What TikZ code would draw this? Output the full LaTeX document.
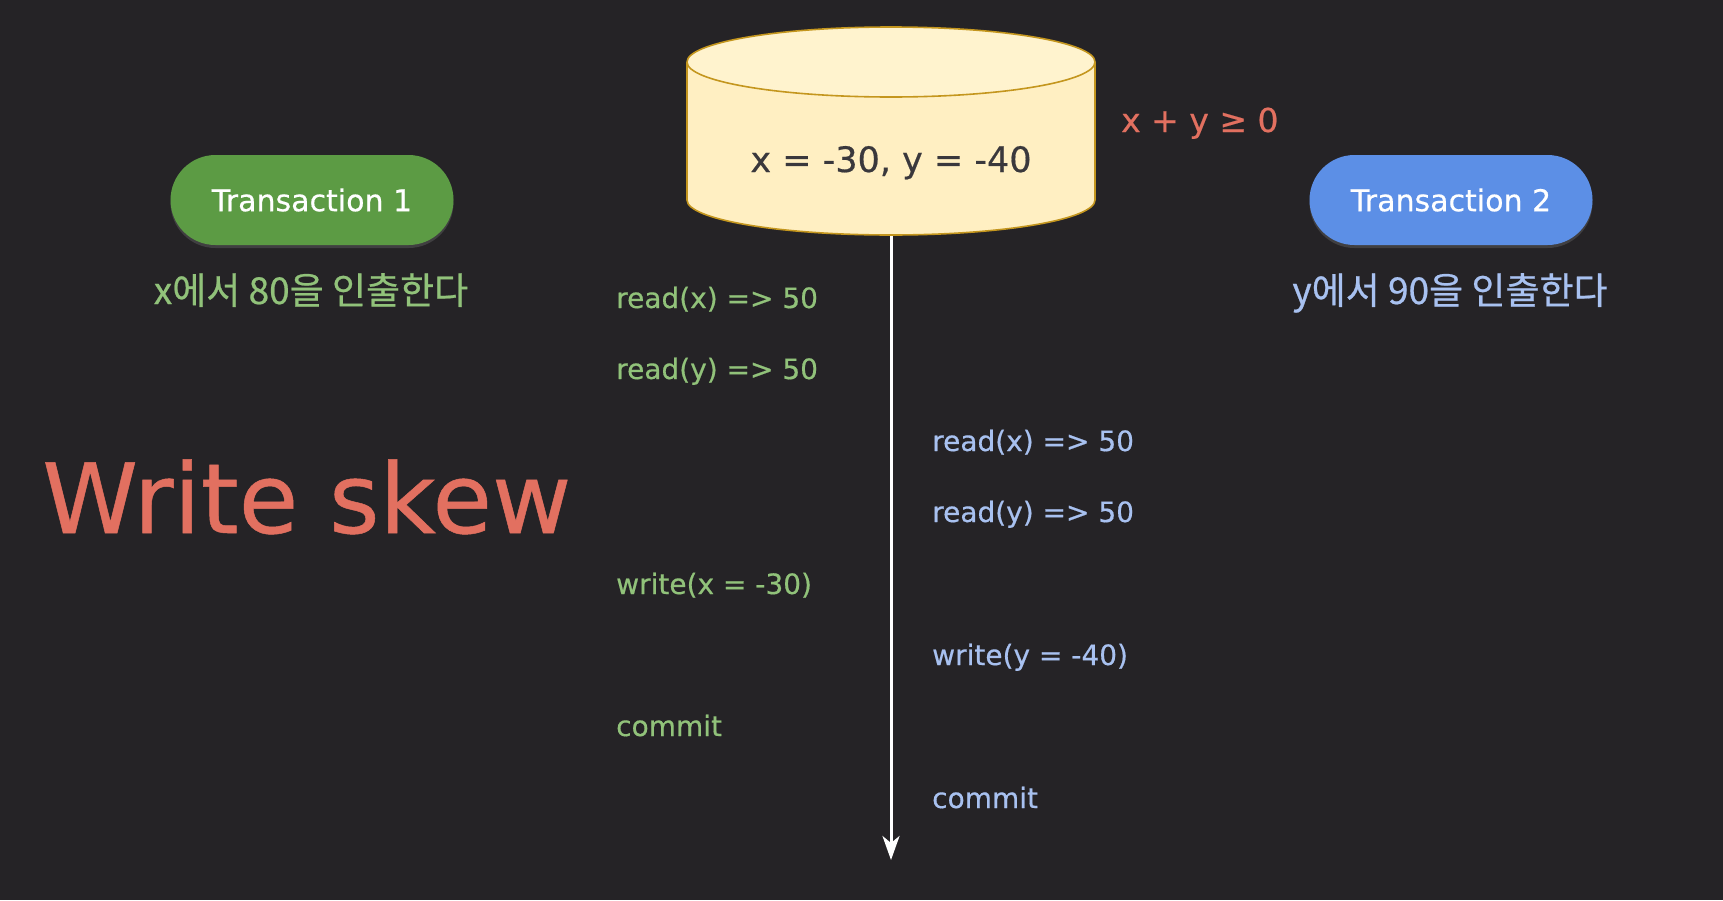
\documentclass[tikz,border=0pt]{standalone}
\usepackage{fontspec}
\setmainfont{DejaVu Sans}[FakeBold=0.5]
\newfontfamily\krfont{Noto Sans CJK KR}[FakeBold=0.6]
\usetikzlibrary{arrows.meta,shadows}
\definecolor{bgc}{RGB}{37,35,38}
\definecolor{pillgreen}{RGB}{92,155,68}
\definecolor{pillblue}{RGB}{92,143,230}
\definecolor{tgreen}{RGB}{145,194,122}
\definecolor{tblue}{RGB}{168,193,240}
\definecolor{salmon}{RGB}{226,112,96}
\definecolor{cylfill}{RGB}{255,239,194}
\definecolor{cyltop}{RGB}{255,243,206}
\definecolor{cylline}{RGB}{196,150,30}
\definecolor{cyltext}{RGB}{58,56,60}
\begin{document}
\begin{tikzpicture}[x=1pt,y=-1pt,
  pill/.style={rounded corners=45pt, minimum width=283pt, minimum height=90pt,
    text=white, font=\fontsize{30}{36}\selectfont, inner sep=0pt,
    drop shadow={opacity=0.3, shadow xshift=0pt, shadow yshift=-3pt}},
  gtxt/.style={text=tgreen, anchor=base west, font=\fontsize{28}{34}\selectfont, inner sep=0pt},
  btxt/.style={text=tblue, anchor=base west, font=\fontsize{28}{34}\selectfont, inner sep=0pt},
  krtxt/.style={anchor=base, font=\krfont\fontsize{37}{44}\selectfont, inner sep=0pt},
  timeline/.style={draw=white, line width=3pt, -{Stealth[length=24pt,width=17pt,inset=7pt]}}
]
\fill[bgc] (0,0) rectangle (1723,900);
\useasboundingbox (0,0) rectangle (1723,900);

% database cylinder
\fill[cylfill, draw=cylline, line width=1.6pt] (891,200) ellipse [x radius=204, y radius=35];
\fill[cylfill] (687,62) rectangle (1095,200);
\draw[cylline, line width=1.6pt] (687,62) -- (687,200);
\draw[cylline, line width=1.6pt] (1095,62) -- (1095,200);
\fill[cyltop, draw=cylline, line width=1.6pt] (891,62) ellipse [x radius=204, y radius=35];
\node[anchor=base, text=cyltext, font=\fontsize{35}{42}\selectfont, inner sep=0pt] (db) at (891,172) {x = -30, y = -40};
\coordinate (dbbot) at (891,236);
\coordinate (tend) at (891,860);
\draw[timeline] (dbbot) -- (tend);

% constraint
\node[anchor=base west, text=salmon, font=\fontsize{33}{40}\selectfont, inner sep=0pt] (cons) at (1121,132) {x + y ≥ 0};

% transactions
\node[pill, fill=pillgreen] (tx1) at (312,200) {Transaction 1};
\node[pill, fill=pillblue] (tx2) at (1451,200) {Transaction 2};
\node[krtxt, text=tgreen] (d1) at (311,304) {x에서 80을 인출한다};
\node[krtxt, text=tblue] (d2) at (1450,304) {y에서 90을 인출한다};

% title
\node[anchor=base west, text=salmon, font=\fontsize{97}{110}\selectfont, inner sep=0pt] (title) at (42,533) {Write skew};

% transaction 1 steps
\node[gtxt] (a1) at (616,308) {read(x) => 50};
\node[gtxt] (a2) at (616,379) {read(y) => 50};
\node[gtxt] (a3) at (616,594) {write(x = -30)};
\node[gtxt] (a4) at (616,736) {commit};

% transaction 2 steps
\node[btxt] (b1) at (932,451) {read(x) => 50};
\node[btxt] (b2) at (932,522) {read(y) => 50};
\node[btxt] (b3) at (932,665) {write(y = -40)};
\node[btxt] (b4) at (932,808) {commit};
\end{tikzpicture}
\end{document}
